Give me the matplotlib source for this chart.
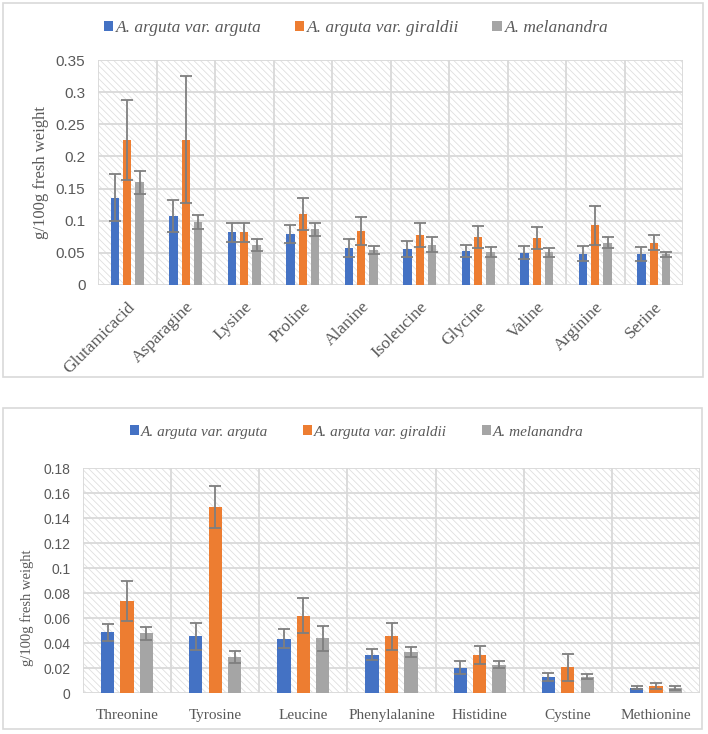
import matplotlib
matplotlib.use("Agg")
import matplotlib.pyplot as plt
from matplotlib.patches import Rectangle, Patch
import numpy as np

plt.rcParams['hatch.linewidth'] = 0.55

series_names = ["A. arguta var. arguta", "A. arguta var. giraldii", "A. melanandra"]
colors = ["#4472C4", "#ED7D31", "#A5A5A5"]

top_categories = ["Glutamicacid", "Asparagine", "Lysine", "Proline", "Alanine",
                  "Isoleucine", "Glycine", "Valine", "Arginine", "Serine"]
top_arguta = [0.136, 0.107, 0.082, 0.079, 0.057, 0.056, 0.053, 0.050, 0.049, 0.048]
top_giraldii = [0.226, 0.226, 0.082, 0.110, 0.084, 0.078, 0.075, 0.073, 0.093, 0.066]
top_melanandra = [0.160, 0.098, 0.062, 0.087, 0.054, 0.063, 0.051, 0.051, 0.066, 0.048]
top_arguta_err = [0.036, 0.025, 0.015, 0.014, 0.014, 0.013, 0.009, 0.010, 0.012, 0.011]
top_giraldii_err = [0.062, 0.099, 0.015, 0.025, 0.022, 0.019, 0.017, 0.017, 0.030, 0.012]
top_melanandra_err = [0.018, 0.011, 0.009, 0.010, 0.006, 0.012, 0.008, 0.007, 0.008, 0.004]
top_yticks = [0, 0.05, 0.1, 0.15, 0.2, 0.25, 0.3, 0.35]
top_yticklabels = ["0", "0.05", "0.1", "0.15", "0.2", "0.25", "0.3", "0.35"]

bot_categories = ["Threonine", "Tyrosine", "Leucine", "Phenylalanine", "Histidine",
                  "Cystine", "Methionine"]
bot_arguta = [0.0488, 0.0456, 0.0437, 0.031, 0.0205, 0.013, 0.0045]
bot_giraldii = [0.0738, 0.149, 0.062, 0.0456, 0.0306, 0.0208, 0.0056]
bot_melanandra = [0.048, 0.029, 0.044, 0.033, 0.023, 0.0133, 0.0045]
bot_arguta_err = [0.007, 0.011, 0.0075, 0.0045, 0.005, 0.0035, 0.001]
bot_giraldii_err = [0.016, 0.017, 0.014, 0.011, 0.007, 0.0107, 0.0024]
bot_melanandra_err = [0.005, 0.005, 0.010, 0.0037, 0.0026, 0.002, 0.0015]
bot_yticks = [0, 0.02, 0.04, 0.06, 0.08, 0.1, 0.12, 0.14, 0.16, 0.18]
bot_yticklabels = ["0", "0.02", "0.04", "0.06", "0.08", "0.1", "0.12", "0.14", "0.16", "0.18"]

GRID = "#D9D9D9"
TXT = "#595959"
ERR = "#7F7F7F"

fig = plt.figure(figsize=(7.08, 7.34), dpi=100)

# panel frames
fig.patches.append(Rectangle((3/708, 1-377/734), 700/708, 374/734, transform=fig.transFigure,
                             facecolor="none", edgecolor=GRID, linewidth=1.2, zorder=5))
fig.patches.append(Rectangle((3/708, 1-729/734), 699/708, 321/734, transform=fig.transFigure,
                             facecolor="none", edgecolor=GRID, linewidth=1.2, zorder=5))


def draw(ax, cats, vals, errs, yticks, ylabels, width, step, rot, ylab_coords, ylab_size, ytsize, xtsize):
    n = len(cats)
    x = np.arange(n)
    ax.set_xlim(-0.5, n - 0.5)
    ax.set_ylim(yticks[0], yticks[-1])
    ax.add_patch(Rectangle((0, 0), 1, 1, transform=ax.transAxes, facecolor="white",
                           edgecolor="#DDDDDD", linewidth=0, hatch="\\\\\\\\\\", zorder=0.1))
    for i, (v, e, c) in enumerate(zip(vals, errs, colors)):
        ax.bar(x + (i - 1) * step, v, width, color=c, zorder=3)
        ax.errorbar(x + (i - 1) * step, v, yerr=e, fmt="none", ecolor=ERR,
                    elinewidth=1.3, capsize=4, capthick=1.3, zorder=4)
    ax.set_yticks(yticks)
    ax.set_yticklabels(ylabels, fontsize=ytsize, color=TXT, family="Liberation Sans")
    for yt in yticks:
        ax.axhline(yt, color=GRID, lw=1.3, zorder=1)
    for b in np.arange(n + 1) - 0.5:
        ax.axvline(b, color=GRID, lw=1.3, zorder=1)
    ax.set_xticks(x)
    if rot:
        ax.set_xticklabels(cats, rotation=45, ha="right", va="top", rotation_mode="anchor",
                           fontsize=xtsize, color=TXT, family="Liberation Serif")
        ax.tick_params(axis="x", length=0, pad=10)
    else:
        ax.set_xticklabels(cats, fontsize=xtsize, color=TXT, family="Liberation Serif")
        ax.tick_params(axis="x", length=0, pad=11)
    ax.tick_params(axis="y", length=0, pad=9)
    for s in ax.spines.values():
        s.set_visible(False)
    ax.set_ylabel("g/100g fresh weight", fontsize=ylab_size, color=TXT, family="Liberation Serif")
    ax.yaxis.set_label_coords(*ylab_coords)


ax1 = fig.add_axes([98/708, 1-285/734, 585/708, 225/734])
draw(ax1, top_categories, [top_arguta, top_giraldii, top_melanandra],
     [top_arguta_err, top_giraldii_err, top_melanandra_err],
     top_yticks, top_yticklabels, 0.145, 0.21, True, (-0.084, 0.5), 12, 11, 12.5)

ax2 = fig.add_axes([83/708, 1-693.3/734, 617/708, 225/734])
draw(ax2, bot_categories, [bot_arguta, bot_giraldii, bot_melanandra],
     [bot_arguta_err, bot_giraldii_err, bot_melanandra_err],
     bot_yticks, bot_yticklabels, 0.15, 0.22, False, (-0.079, 0.38), 10.5, 10, 11)

handles = [Patch(facecolor=c, edgecolor="none") for c in colors]
fig.legend(handles, series_names, loc="center", bbox_to_anchor=(356/708, 1-28/734), ncol=3,
           frameon=False, handlelength=0.55, handleheight=0.55, handletextpad=0.15,
           columnspacing=1.9, prop={"family": "Liberation Serif", "style": "italic", "size": 12.5},
           labelcolor=TXT)
fig.legend(handles, series_names, loc="center", bbox_to_anchor=(357/708, 1-432/734), ncol=3,
           frameon=False, handlelength=0.55, handleheight=0.55, handletextpad=0.15,
           columnspacing=2.3, prop={"family": "Liberation Serif", "style": "italic", "size": 11},
           labelcolor=TXT)

fig.savefig("out.png", dpi=100)
